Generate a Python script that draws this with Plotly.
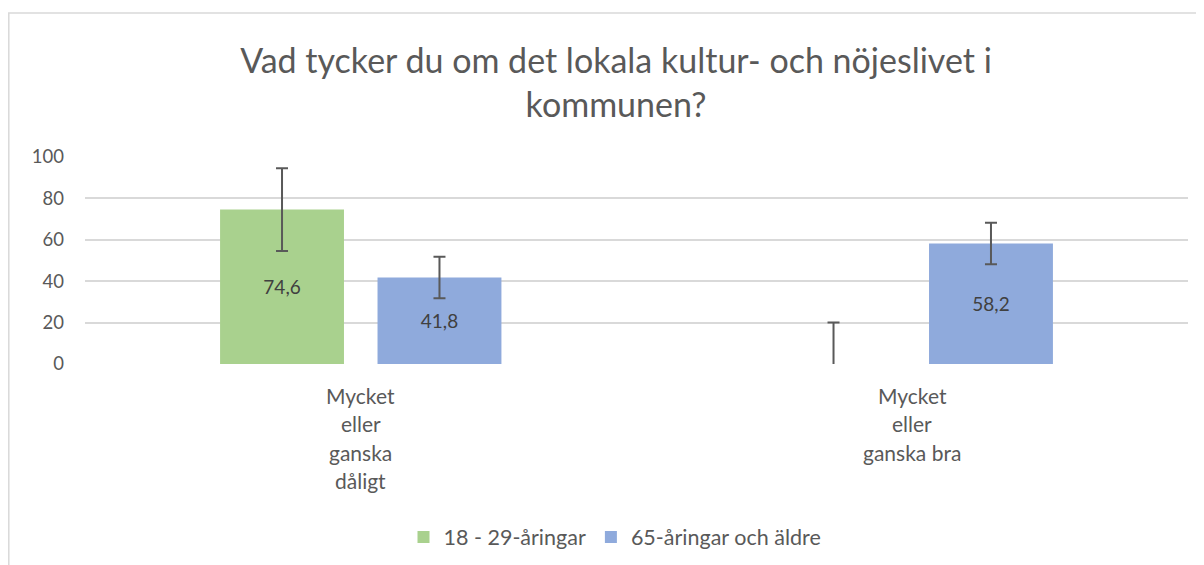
import plotly.graph_objects as go

categories = ["Mycket eller ganska dåligt", "Mycket eller ganska bra"]
category_lines = [["Mycket", "eller", "ganska", "dåligt"], ["Mycket", "eller", "ganska bra"]]
series_names = ["18 - 29-åringar", "65-åringar och äldre"]
young_values = [74.6, 0]
old_values = [41.8, 58.2]
young_err = [20, 20]
old_err = [10, 10]
y_ticks = [0, 20, 40, 60, 80, 100]

GREEN = "#A9D18E"
BLUE = "#8FAADC"
TXT = "#595959"
FONT = "Lato, Open Sans, sans-serif"


def labels(vals):
    return [("%.1f" % v).replace(".", ",") if v > 0 else "" for v in vals]


fig = go.Figure()
for name, vals, err, col in [
    (series_names[0], young_values, young_err, GREEN),
    (series_names[1], old_values, old_err, BLUE),
]:
    fig.add_trace(go.Bar(
        x=categories, y=vals, name=name, marker=dict(color=col, line=dict(width=0)),
        text=labels(vals), textposition="inside", insidetextanchor="middle",
        textfont=dict(size=19, color="#404040", family=FONT), textangle=0,
        error_y=dict(type="data", array=err, visible=True, color=TXT, thickness=2, width=6),
        hoverinfo="skip",
    ))

# page is offset by the 8px body margin
OFF = 8
W, H = 1204, 565
L, R, T, B = 85 - OFF, 24, 157 - OFF, 209
plot_h = H - T - B
plot_w = W - L - R

annotations = []
for cat, lines in zip(categories, category_lines):
    for i, line in enumerate(lines):
        annotations.append(dict(
            x=cat, xref="x", y=0, yref="paper", yanchor="middle", xanchor="center",
            yshift=-31 - 28.5 * i, text=line, showarrow=False,
            font=dict(size=21, color=TXT, family=FONT),
        ))

shapes = [dict(
    type="rect", xref="paper", yref="paper",
    x0=(0.8 - L) / plot_w, x1=(W + 20 - L) / plot_w,
    y0=-(H + 20 - T - plot_h) / plot_h, y1=(T + plot_h - 5) / plot_h,
    line=dict(color="#D9D9D9", width=1.5), fillcolor="rgba(0,0,0,0)", layer="below",
)]

fig.update_layout(
    width=W, height=H,
    margin=dict(l=L, r=R, t=T, b=B, pad=0),
    paper_bgcolor="white", plot_bgcolor="white",
    title=dict(
        text="Vad tycker du om det lokala kultur- och nöjeslivet i<br>kommunen?",
        x=(616 - OFF) / W, xref="container", xanchor="center",
        y=1 - (73 - OFF) / H, yref="container", yanchor="middle",
        font=dict(size=34, color=TXT, family=FONT),
    ),
    barmode="group", bargap=0.429, bargroupgap=0.213,
    showlegend=True,
    legend=dict(
        orientation="h", x=(615 - 85) / plot_w, xanchor="center",
        y=-(537 - 364) / plot_h, yanchor="middle",
        font=dict(size=21.5, color=TXT, family=FONT),
        itemwidth=30, traceorder="normal",
    ),
    xaxis=dict(showticklabels=False, showline=False, showgrid=False, zeroline=False),
    yaxis=dict(
        range=[0, 100], tickvals=y_ticks, ticktext=[str(v) for v in y_ticks],
        showgrid=True, gridcolor="#D9D9D9", gridwidth=1.5, zeroline=False, showline=False,
        tickfont=dict(size=18.5, color=TXT, family=FONT), ticklabelstandoff=20,
    ),
    annotations=annotations, shapes=shapes,
    font=dict(family=FONT, color=TXT),
)

fig.write_html("out.html")
